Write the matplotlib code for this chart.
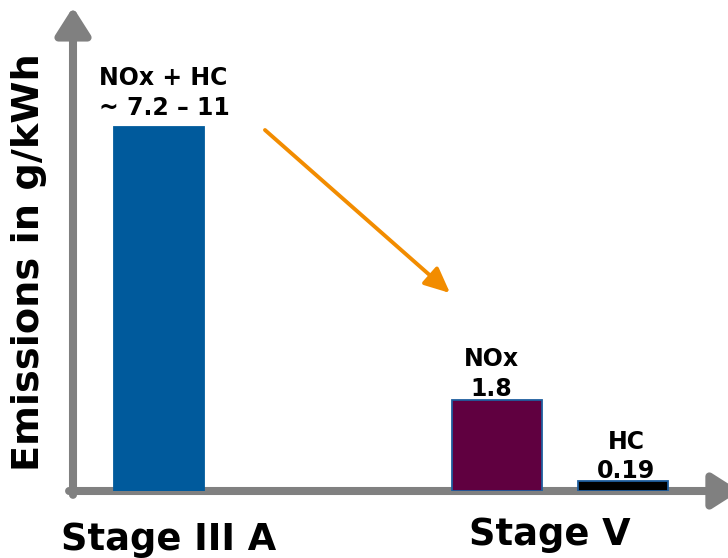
import matplotlib
matplotlib.use("Agg")
import matplotlib.pyplot as plt
from matplotlib.patches import FancyArrowPatch

# --- data -------------------------------------------------------------
stages = ["Stage III A", "Stage V"]
pollutants = ["NOx + HC", "NOx", "HC"]
values = [7.2, 1.8, 0.19]              # g/kWh (Stage III A: lower bound of 7.2 – 11)
value_labels = ["~ 7.2 \u2013 11", "1.8", "0.19"]
bar_stage = [0, 1, 1]                  # which stage each bar belongs to

# --- layout / style ---------------------------------------------------
bar_x = [0.961, 4.706, 6.111]
stage_x = [1.061, 5.30]
stage_label_y = [-0.1227, -0.1123]
bar_colors = ["#005A9C", "#600040", "#000000"]
bar_edges = ["#005A9C", "#1F5E9E", "#1F5E9E"]
label_offsets = [(-15, 12), (-5, 4), (3, 3)]   # pixels
label_ha = ["left", "center", "center"]
label_anchor_left = [True, False, False]

W, H = 728, 558
fig = plt.figure(figsize=(W / 100, H / 100), dpi=100)
ax_left, ax_base, ax_top = 73, 491, 10
ax = fig.add_axes([ax_left / W, (H - ax_base) / H, (W - ax_left) / W, (ax_base - ax_top) / H])
ax.set_xlim(0, (W - ax_left) / 90)
ax.set_ylim(0, 9.515)
ax.axis("off")

FONT = "DejaVu Sans"

# bars
ax.bar(bar_x, values, width=1.0, color=bar_colors, edgecolor=bar_edges,
       linewidth=1.3, zorder=3)

# value annotations above each bar
for x, v, name, vl, off, ha, left in zip(bar_x, values, pollutants, value_labels,
                                         label_offsets, label_ha, label_anchor_left):
    ax.annotate(f"{name}\n{vl}", xy=(x - 0.5 if left else x, v),
                xytext=off, textcoords="offset pixels",
                ha=ha, va="baseline", multialignment=ha,
                fontsize=17, fontweight="bold", family=FONT,
                linespacing=1.3, zorder=4)

# stage names under the axis
for sx, sy, s in zip(stage_x, stage_label_y, stages):
    ax.text(sx, sy, s, transform=ax.get_xaxis_transform(), ha="center",
            va="baseline", fontsize=26.5, fontweight="bold", family=FONT,
            clip_on=False)

# axis arrows
axis_grey = "#808080"
yarrow = FancyArrowPatch((0, -0.008), (0, 1.006), transform=ax.transAxes,
                         arrowstyle="-|>,head_length=0.55,head_width=0.35",
                         mutation_scale=30, lw=5.8, color=axis_grey,
                         clip_on=False, zorder=2, shrinkA=0, shrinkB=0)
xarrow = FancyArrowPatch((-0.006, 0), (1.018, 0), transform=ax.transAxes,
                         arrowstyle="-|>,head_length=0.55,head_width=0.35",
                         mutation_scale=30, lw=5.8, color=axis_grey,
                         clip_on=False, zorder=2, shrinkA=0, shrinkB=0)
ax.add_patch(yarrow)
ax.add_patch(xarrow)

# trend arrow from Stage III A to Stage V
ax.annotate("", xy=(0.5756, 0.4116), xytext=(0.2931, 0.7505),
            xycoords="axes fraction", textcoords="axes fraction",
            arrowprops=dict(arrowstyle="-|>,head_length=0.7,head_width=0.32",
                            mutation_scale=22, lw=2.8, color="#F28C00",
                            shrinkA=0, shrinkB=0))

fig.text(29 / W, 1 - 262 / H, "Emissions in g/kWh", rotation=90,
         ha="center", va="center", fontsize=27.5, fontweight="bold", family=FONT)

fig.savefig("out.png", dpi=100, facecolor="white")
